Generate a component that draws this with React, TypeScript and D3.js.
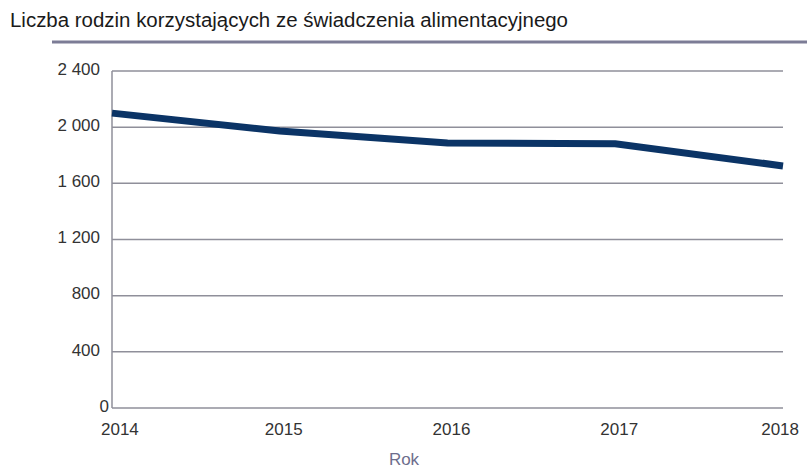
import React from "react";
import * as d3 from "d3";

const years = ["2014", "2015", "2016", "2017", "2018"];
const families = [2100, 1972, 1888, 1882, 1724];
const yTicks = [0, 400, 800, 1200, 1600, 2000, 2400];
const title = "Liczba rodzin korzystających ze świadczenia alimentacyjnego";
const xTitle = "Rok";

const W = 807;
const H = 468;
const m = { left: 112, right: 24, top: 71, bottom: 60 };

export default function App() {
  const x = d3
    .scalePoint<string>()
    .domain(years)
    .range([m.left, W - m.right]);
  const y = d3
    .scaleLinear()
    .domain([0, 2400])
    .range([H - m.bottom, m.top]);
  const line = d3
    .line<number>()
    .x((_, i) => x(years[i]) as number)
    .y((d) => y(d));
  const fmt = (v: number) =>
    v >= 1000 ? `${Math.floor(v / 1000)} ${String(v % 1000).padStart(3, "0")}` : String(v);
  const font = "Liberation Sans, Arial, sans-serif";
  return (
    <svg
      width={W}
      height={H}
      style={{ position: "absolute", left: 0, top: 0, background: "#fff" }}
    >
      <text
        x={10}
        y={27}
        fontFamily={font}
        fontSize={20}
        fill="#1a1a1a"
        textLength={558}
        lengthAdjust="spacingAndGlyphs"
      >
        {title}
      </text>
      <line x1={52} x2={W} y1={42} y2={42} stroke="#7c7c96" strokeWidth={3} />
      {yTicks.map((t) => (
        <g key={t}>
          <line
            x1={m.left}
            x2={W - m.right}
            y1={y(t)}
            y2={y(t)}
            stroke="#8f8f9a"
            strokeWidth={1.5}
          />
          <text
            x={t === 0 ? m.left - 3 : m.left - 12}
            y={y(t)}
            dy={t === 0 ? "0.22em" : "0.22em"}
            textAnchor="end"
            fontFamily={font}
            fontSize={17}
            fill="#333"
          >
            {fmt(t)}
          </text>
        </g>
      ))}
      <line x1={m.left} x2={m.left} y1={m.top} y2={y(0)} stroke="#8f8f9a" strokeWidth={1.5} />
      {years.map((yr, i) => (
        <text
          key={yr}
          x={x(yr) as number}
          y={y(0) + 27}
          textAnchor={i === 0 ? "start" : i === years.length - 1 ? "end" : "middle"}
          dx={i === 0 ? -11 : i === years.length - 1 ? 16 : 4}
          fontFamily={font}
          fontSize={17}
          fill="#333"
        >
          {yr}
        </text>
      ))}
      <text
        x={404}
        y={465}
        textAnchor="middle"
        fontFamily={font}
        fontSize={17}
        fill="#6d6d8c"
      >
        {xTitle}
      </text>
      <path
        d={line(families) ?? ""}
        fill="none"
        stroke="#0b3466"
        strokeWidth={7}
        strokeLinejoin="miter"
      />
    </svg>
  );
}
